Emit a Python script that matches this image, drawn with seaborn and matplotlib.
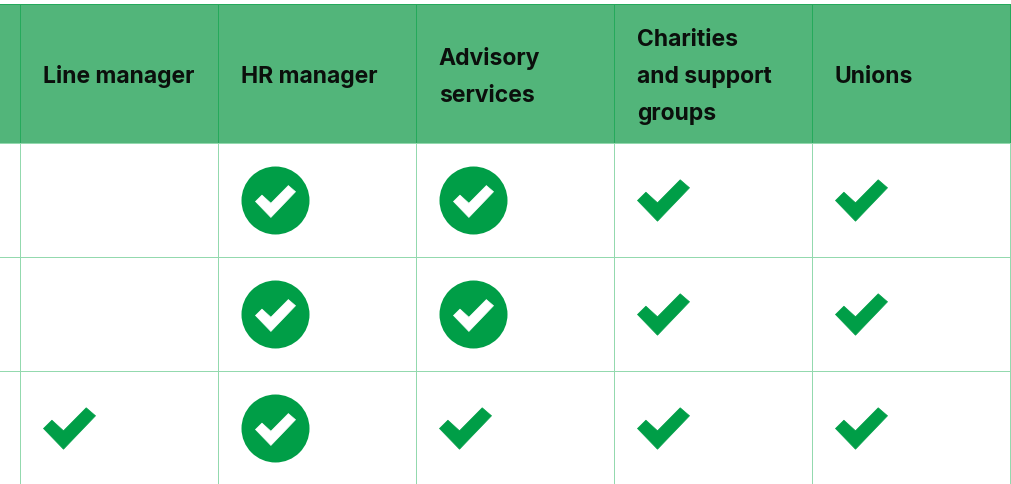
import matplotlib
matplotlib.use("Agg")
import matplotlib.pyplot as plt
import numpy as np
import pandas as pd
import seaborn as sns
from matplotlib.colors import ListedColormap
from matplotlib.path import Path

# first column is cut off in the original, only its right edge shows
columns = ["", "Line manager", "HR manager", "Advisory\nservices", "Charities\nand support\ngroups", "Unions"]
# 0 = nothing, 1 = tick, 2 = tick in a circle
col_hidden = [0, 0, 0]
col_line = [0, 0, 1]
col_hr = [2, 2, 2]
col_advisory = [2, 2, 1]
col_charities = [1, 1, 1]
col_unions = [1, 1, 1]

GREEN = "#009E47"
HEADER = "#52B57A"
HEADER_LINE = "#25A95B"
GRID = "#93D9AE"

W, H = 1011, 484
COL_W, ROW_H = 198, 114
HEAD_TOP, HEAD_BOTTOM = 3.5, 143

check = Path([(-26, 0), (-6, -20.7), (26, 12.7), (16.7, 20.7), (-6, -2.3), (-17.6, 8.3), (-26, 0)], closed=True)

sns.set_theme(style="white")
plt.rcParams["font.family"] = ["Inter", "DejaVu Sans"]

status = np.array([col_hidden, col_line, col_hr, col_advisory, col_charities, col_unions]).T
fig = plt.figure(figsize=(W / 100, H / 100), dpi=100)

# header row
ax_head = fig.add_axes([0, 1 - HEAD_BOTTOM / H, 1, (HEAD_BOTTOM - HEAD_TOP) / H])
sns.heatmap(np.zeros((1, len(columns))), ax=ax_head, cbar=False, cmap=ListedColormap([HEADER]),
            linewidths=0.6, linecolor=HEADER_LINE, xticklabels=False, yticklabels=False)
ax_head.set_xlim(1 - 19.7 / COL_W, len(columns) + 1.3 / COL_W)
ax_head.set_ylim(1, 0)
for i, label in enumerate(columns):
    ax_head.text(i + 23 / COL_W, 0.525, label, va="center", ha="left", fontsize=16.5, fontweight="bold",
                 color="#0b0f0c", linespacing=1.87, clip_on=True)

# body rows
ax = fig.add_axes([0, 0, 1, 1 - HEAD_BOTTOM / H])
sns.heatmap(status, ax=ax, cbar=False, cmap=ListedColormap(["white"]), linewidths=0.6, linecolor=GRID,
            xticklabels=False, yticklabels=False)

df = pd.DataFrame(status).reset_index(names="row").melt(id_vars="row", var_name="col", value_name="kind")
ticks = df[df["kind"] == 1]
circles = df[df["kind"] == 2]
sns.scatterplot(x=ticks["col"] + 49.3 / COL_W, y=ticks["row"] + 0.5, ax=ax, marker=check, s=1402,
                color=GREEN, edgecolor=GREEN, linewidth=0.5, legend=False)
sns.scatterplot(x=circles["col"] + 57 / COL_W, y=circles["row"] + 0.5, ax=ax, marker="o", s=2397,
                color=GREEN, linewidth=0, legend=False)
sns.scatterplot(x=circles["col"] + 57 / COL_W, y=circles["row"] + 0.513, ax=ax, marker=check, s=829,
                color="white", edgecolor="white", linewidth=0.5, legend=False)

ax.set_xlim(1 - 19.7 / COL_W, len(columns) + 1.3 / COL_W)
ax.set_ylim((H - HEAD_BOTTOM) / ROW_H, 0)
ax.set_xlabel("")
ax.set_ylabel("")

fig.savefig("out.png", dpi=100)
